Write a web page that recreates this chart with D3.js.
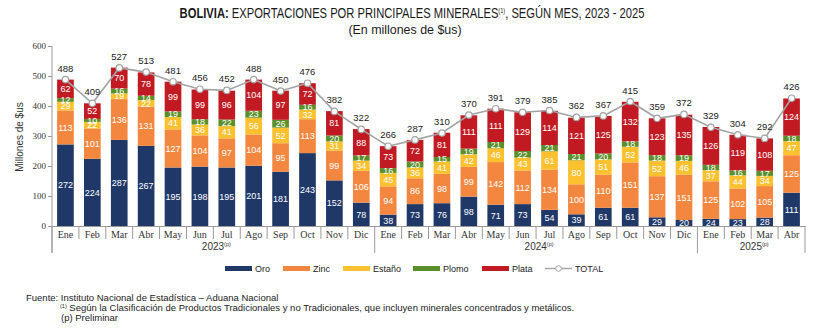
<!DOCTYPE html>
<html><head><meta charset="utf-8">
<script src="https://cdn.jsdelivr.net/npm/d3@7"></script>
<style>
html,body{margin:0;padding:0;background:#fff;}
svg{display:block;font-family:"Liberation Sans Narrow","Arial Narrow","Liberation Sans",Arial,sans-serif;}
</style></head>
<body>
<svg id="c" width="820" height="335"></svg>
<script>
const months = ["Ene","Feb","Mar","Abr","May","Jun","Jul","Ago","Sep","Oct","Nov","Dic",
 "Ene","Feb","Mar","Abr","May","Jun","Jul","Ago","Sep","Oct","Nov","Dic",
 "Ene","Feb","Mar","Abr"];
const years = [{label:"2023", start:0, end:12},{label:"2024", start:12, end:24},{label:"2025", start:24, end:28}];
const oro    = [272,224,287,267,195,198,195,201,181,243,152,78, 38,73,76,98,71,73,54,39,61,61,29,20, 24,23,28,111];
const zinc   = [113,101,136,131,127,104,97,104,95,113,99,106, 94,86,98,99,142,112,134,100,110,151,137,151, 125,102,105,125];
const estano = [29,22,19,22,41,36,41,56,52,32,31,34, 45,36,41,42,46,43,61,80,51,52,52,46, 37,44,34,47];
const plomo  = [12,10,16,14,19,18,22,23,26,16,20,17, 16,20,15,19,21,22,21,21,20,18,18,19, 18,16,17,18];
const plata  = [62,52,70,78,99,99,96,104,97,72,81,88, 73,72,81,111,111,129,114,121,125,132,123,135, 126,119,108,124];
const total  = [488,409,527,513,481,456,452,488,450,476,382,322, 266,287,310,370,391,379,385,362,367,415,359,372, 329,304,292,426];
const yTicks = [0,100,200,300,400,500,600];

const seriesNames = ["Oro","Zinc","Estaño","Plomo","Plata"];
const seriesData = [oro,zinc,estano,plomo,plata];
const colors = ["#1f3868","#f4873f","#fdc02e","#5a8f2b","#c21a22"];

const svg = d3.select("#c");
const font = "Liberation Sans Narrow";
const x0 = 52, x1 = 805, yTop = 46, yBot = 226;

const x = d3.scaleBand().domain(d3.range(months.length)).range([x0, x1]).paddingInner(0.38).paddingOuter(0.19);
const y = d3.scaleLinear().domain([0,600]).range([yBot, yTop]);
const step = x.step();

const rows = months.map((m,i)=>({i, Oro:oro[i], Zinc:zinc[i], "Estaño":estano[i], Plomo:plomo[i], Plata:plata[i]}));
const stack = d3.stack().keys(seriesNames)(rows);

// title (horizontally condensed)
const tg = svg.append("g").attr("transform","translate(412,18) scale(0.8,1)");
const t = tg.append("text").attr("x",0).attr("y",0).attr("text-anchor","middle")
  .attr("font-size",14).attr("fill","#1a1a1a");
t.append("tspan").attr("font-weight","bold").text("BOLIVIA:");
t.append("tspan").text(" EXPORTACIONES POR PRINCIPALES MINERALES");
t.append("tspan").attr("font-size",7).attr("dy",-5).text("(1)");
t.append("tspan").attr("dy",5).text(", SEGÚN MES, 2023 - 2025");
svg.append("g").attr("transform","translate(405,34) scale(0.92,1)")
  .append("text").attr("text-anchor","middle")
  .attr("font-size",13.5).attr("fill","#1a1a1a").text("(En millones de $us)");

// y axis
const gy = svg.append("g").attr("transform",`translate(${x0},0)`)
  .call(d3.axisLeft(y).tickValues(yTicks).tickSize(4).tickSizeOuter(0));
gy.select(".domain").remove();
gy.selectAll("line").attr("stroke","#9a9a9a");
gy.selectAll("text").attr("font-size",9).attr("fill","#333").attr("font-family",font).attr("x",-6);
svg.append("line").attr("x1",x0).attr("x2",x0).attr("y1",yTop).attr("y2",253).attr("stroke","#9a9a9a");
svg.append("text").attr("transform",`translate(23,137) rotate(-90)`).attr("text-anchor","middle")
  .attr("font-size",10).attr("fill","#333").text("Millones de $us");

// bars
const gb = svg.append("g");
stack.forEach((s,k)=>{
  gb.append("g").selectAll("rect").data(s).join("rect")
    .attr("x",(d,i)=>x(i)).attr("width",x.bandwidth())
    .attr("y",d=>y(d[1])).attr("height",d=>y(d[0])-y(d[1]))
    .attr("fill",colors[k]);
});
stack.forEach((s,k)=>{
  gb.append("g").selectAll("text").data(s).join("text")
    .attr("x",(d,i)=>x(i)+x.bandwidth()/2)
    .attr("y",d=>(y(d[0])+y(d[1]))/2+3.2)
    .attr("text-anchor","middle").attr("font-size",9).attr("fill","#fff")
    .text((d,i)=>seriesData[k][i]);
});

// x axis
const gx = svg.append("g").attr("transform",`translate(0,${yBot})`)
  .call(d3.axisBottom(x).tickFormat(i=>months[i]).tickSize(0).tickSizeOuter(0));
gx.select(".domain").attr("stroke","#9a9a9a");
gx.selectAll("text").attr("font-size",10).attr("fill","#333").attr("font-family",font).attr("dy",0).attr("y",12);
// separators
d3.range(months.length+1).forEach(i=>{
  const isYear = years.some(yy=>yy.start===i) || i===months.length;
  svg.append("line").attr("x1",x0+i*step).attr("x2",x0+i*step)
    .attr("y1",yBot).attr("y2",isYear?253:239).attr("stroke","#9a9a9a");
});
years.forEach(yy=>{
  const cx = x0 + (yy.start+yy.end)/2*step;
  const tt = svg.append("text").attr("x",cx+3).attr("y",250).attr("text-anchor","middle")
    .attr("font-size",10).attr("fill","#333");
  tt.append("tspan").text(yy.label);
  tt.append("tspan").attr("font-size",5.5).attr("dy",-4).text("(p)");
});

// total line
const line = d3.line().x((d,i)=>x(i)+x.bandwidth()/2).y(d=>y(d));
svg.append("path").datum(total).attr("d",line).attr("fill","none").attr("stroke","#a3a3a3").attr("stroke-width",1.6);
svg.append("g").selectAll("circle").data(total).join("circle")
  .attr("cx",(d,i)=>x(i)+x.bandwidth()/2).attr("cy",d=>y(d)).attr("r",3.2)
  .attr("fill","#fff").attr("stroke","#a3a3a3").attr("stroke-width",1.2);
svg.append("g").selectAll("text").data(total).join("text")
  .attr("x",(d,i)=>x(i)+x.bandwidth()/2).attr("y",d=>y(d)-8)
  .attr("text-anchor","middle").attr("font-size",9.5).attr("fill","#222").text(d=>d);

// legend
const lg = svg.append("g");
const legX = [225,283,343,413,482];
seriesNames.forEach((n,k)=>{
  lg.append("rect").attr("x",legX[k]).attr("y",266).attr("width",27).attr("height",5).attr("fill",colors[k]);
  lg.append("text").attr("x",legX[k]+30).attr("y",271.5).attr("font-size",9).attr("fill","#222").text(n);
});
lg.append("line").attr("x1",545).attr("x2",572).attr("y1",268.5).attr("y2",268.5).attr("stroke","#a3a3a3").attr("stroke-width",1.4);
lg.append("circle").attr("cx",558.5).attr("cy",268.5).attr("r",2.8).attr("fill","#fff").attr("stroke","#a3a3a3");
lg.append("text").attr("x",575).attr("y",271.5).attr("font-size",9).attr("fill","#222").text("TOTAL");

// footnotes
svg.append("text").attr("x",26).attr("y",301).attr("font-size",9.5).attr("fill","#222")
  .text("Fuente: Instituto Nacional de Estadística – Aduana Nacional");
const f2 = svg.append("text").attr("x",60).attr("y",311).attr("font-size",9.5).attr("fill","#222");
f2.append("tspan").attr("font-size",5.5).attr("dy",-3).text("(1)");
f2.append("tspan").attr("dy",3).text(" Según la Clasificación de Productos Tradicionales y no Tradicionales, que incluyen minerales concentrados y metálicos.");
svg.append("text").attr("x",61).attr("y",321).attr("font-size",9.5).attr("fill","#222").text("(p) Preliminar");
</script>
</body></html>
